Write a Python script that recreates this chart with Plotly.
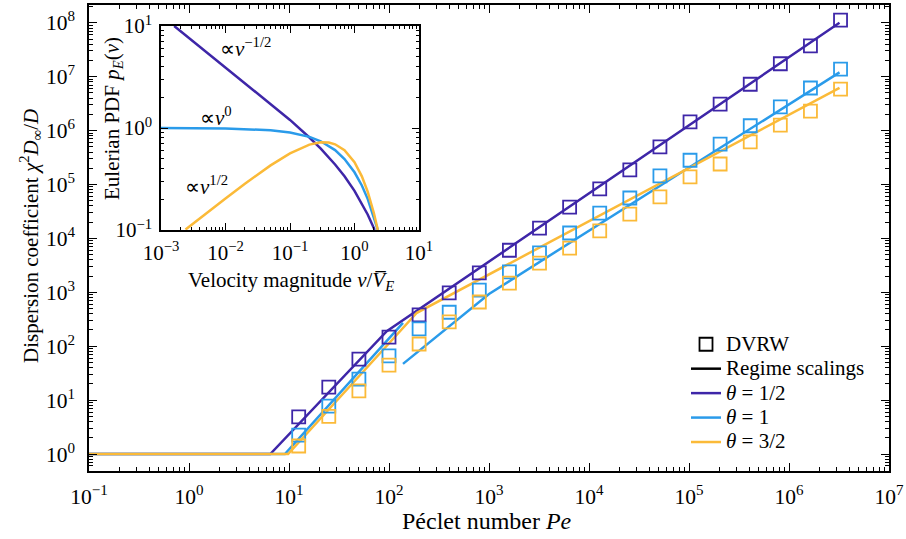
import plotly.graph_objects as go

# ---------------- data ----------------
# DVRW simulation points (Péclet number, dispersion coefficient)
pe_points = [12.5, 25, 50, 100, 200, 400, 800, 1600, 3200, 6400, 12800, 25600,
             51200, 102400, 204800, 409600, 819200, 1638400, 3276800]
d_half = [4.9, 17.4, 57.5, 148, 380, 977, 2290, 6030, 15500, 38000, 83200, 186000,
          501000, 1.45e6, 3.09e6, 7.24e6, 1.74e7, 3.72e7, 1.12e8]
d_one = [2.24, 7.76, 24.5, 66, 209, 427, 1100, 2400, 5370, 12600, 29500, 56200,
         145000, 282000, 562000, 1.23e6, 2.75e6, 6.17e6, 1.38e7]
d_threehalf = [1.41, 5.01, 14.8, 44.7, 110, 282, 661, 1480, 3470, 6610, 13800, 28200,
               58900, 138000, 240000, 617000, 1.26e6, 2.29e6, 5.89e6]

# Regime scaling lines (vertices)
pe_scal_half = [0.1, 6.5, 95, 3.2e6]
d_scal_half = [1, 1, 190, 1.0e8]
pe_scal_one_a = [0.1, 9.1, 138]
d_scal_one_a = [1, 1, 270]
pe_scal_one_b = [138, 1000, 3.2e6]
d_scal_one_b = [47, 933, 1.2e7]
pe_scal_threehalf = [0.1, 9.8, 190, 3.2e6]
d_scal_threehalf = [1, 1, 417, 6.2e6]

# Inset: Eulerian velocity PDFs
v_half = [0.0016, 0.002, 0.005, 0.01, 0.02, 0.05, 0.1, 0.2, 0.3, 0.5, 0.7, 1.0, 1.3, 1.6, 2.0, 2.05]
p_half = [10.0, 8.92, 5.63, 3.97, 2.79, 1.74, 1.20, 0.807, 0.627, 0.439, 0.336, 0.242, 0.183, 0.142, 0.104, 0.100]
v_one = [0.001, 0.01, 0.05, 0.1, 0.2, 0.3, 0.5, 0.7, 1.0, 1.3, 1.6, 2.0, 2.3]
p_one = [0.999, 0.990, 0.951, 0.905, 0.819, 0.741, 0.607, 0.497, 0.368, 0.273, 0.202, 0.135, 0.100]
v_threehalf = [0.0024, 0.005, 0.01, 0.02, 0.05, 0.1, 0.2, 0.3, 0.4, 0.5, 0.7, 1.0, 1.3, 1.6, 2.0, 2.3]
p_threehalf = [0.101, 0.146, 0.204, 0.284, 0.430, 0.564, 0.687, 0.725, 0.720, 0.692, 0.607, 0.463, 0.336, 0.238, 0.146, 0.100]

main_x_exps = [-1, 0, 1, 2, 3, 4, 5, 6, 7]
main_y_exps = [0, 1, 2, 3, 4, 5, 6, 7, 8]
inset_x_exps = [-3, -2, -1, 0, 1]
inset_y_exps = [-1, 0, 1]

legend_names = ["DVRW", "Regime scalings", "<i>θ</i> = 1/2", "<i>θ</i> = 1", "<i>θ</i> = 3/2"]

# ---------------- style ----------------
PURPLE = "#3E26A8"
BLUE = "#2A9BEA"
YELLOW = "#FBBA38"
FONT = "Liberation Serif"


def sup_labels(exps):
    return ["10<sup>%s</sup>" % (str(e).replace("-", "\u2212")) for e in exps]


def minor_vals(exps):
    vals = []
    for e in exps[:-1]:
        for m in range(2, 10):
            vals.append(m * 10 ** e)
    return vals


def big(t):
    return '<span style="font-size:21px">%s</span>' % t


fig = go.Figure()

# main regime lines
for xs, ys, c in [(pe_scal_half, d_scal_half, PURPLE),
                  (pe_scal_one_a, d_scal_one_a, BLUE),
                  (pe_scal_one_b, d_scal_one_b, BLUE),
                  (pe_scal_threehalf, d_scal_threehalf, YELLOW)]:
    fig.add_trace(go.Scatter(x=xs, y=ys, mode="lines", line=dict(color=c, width=2.5),
                             showlegend=False, xaxis="x", yaxis="y"))

# DVRW markers
for ys, c in [(d_half, PURPLE), (d_one, BLUE), (d_threehalf, YELLOW)]:
    fig.add_trace(go.Scatter(x=pe_points, y=ys, mode="markers",
                             marker=dict(symbol="square-open", size=13, color=c,
                                         line=dict(width=1.8, color=c)),
                             showlegend=False, xaxis="x", yaxis="y"))

# legend entries
fig.add_trace(go.Scatter(x=[None], y=[None], mode="markers", name=big(legend_names[0]),
                         marker=dict(symbol="square-open", size=13, color="black",
                                     line=dict(width=1.8, color="black"))))
for name, c in zip(legend_names[1:], ["black", PURPLE, BLUE, YELLOW]):
    fig.add_trace(go.Scatter(x=[None], y=[None], mode="lines", name=big(name),
                             line=dict(color=c, width=2.5)))

# inset curves
for xs, ys, c in [(v_half, p_half, PURPLE), (v_one, p_one, BLUE), (v_threehalf, p_threehalf, YELLOW)]:
    fig.add_trace(go.Scatter(x=xs, y=ys, mode="lines", line=dict(color=c, width=2.5),
                             showlegend=False, xaxis="x2", yaxis="y2"))

W, H = 906, 539
L, R, T, B = 89, 17, 5, 68
PW, PH = W - L - R, H - T - B


def px(xp):
    return (xp - L) / PW


def py(yp):
    return (H - B - yp) / PH


axis_common = dict(type="log", showline=True, linecolor="black", linewidth=1.5,
                   mirror="allticks", ticks="inside", tickcolor="black", tickwidth=1.2,
                   showgrid=False, zeroline=False, tickmode="array", automargin=False,
                   tickfont=dict(family=FONT, size=21.5, color="black"))

fig.update_layout(
    width=W, height=H,
    margin=dict(l=L, r=R, t=T, b=B, autoexpand=False),
    paper_bgcolor="white", plot_bgcolor="white",
    font=dict(family=FONT, color="black"),
    xaxis=dict(axis_common, domain=[0, 1], range=[-1, 7], ticklen=8,
               tickvals=[10 ** e for e in main_x_exps], ticktext=sup_labels(main_x_exps),
               minor=dict(tickmode="array", tickvals=minor_vals(main_x_exps), ticks="inside",
                          ticklen=4, tickcolor="black", tickwidth=1.2),
               ticklabelstandoff=5),
    yaxis=dict(axis_common, domain=[0, 1], range=[-0.315, 8.33], ticklen=8,
               tickvals=[10 ** e for e in main_y_exps], ticktext=sup_labels(main_y_exps),
               minor=dict(tickmode="array", tickvals=minor_vals([-1] + main_y_exps + [9]),
                          ticks="inside", ticklen=4, tickcolor="black", tickwidth=1.2),
               ticklabelstandoff=8),
    xaxis2=dict(axis_common, domain=[px(161), px(419)], range=[-3, 1], anchor="y2", ticklen=7,
                tickvals=[10 ** e for e in inset_x_exps], ticktext=sup_labels(inset_x_exps),
                minor=dict(tickmode="array", tickvals=minor_vals(inset_x_exps), ticks="inside",
                           ticklen=3.5, tickcolor="black", tickwidth=1.2),
                tickfont=dict(family=FONT, size=21, color="black"), ticklabelstandoff=3),
    yaxis2=dict(axis_common, domain=[py(230), py(26)], range=[-1, 1], anchor="x2", ticklen=7,
                tickvals=[10 ** e for e in inset_y_exps], ticktext=sup_labels(inset_y_exps),
                minor=dict(tickmode="array", tickvals=minor_vals(inset_y_exps), ticks="inside",
                           ticklen=3.5, tickcolor="black", tickwidth=1.2),
                tickfont=dict(family=FONT, size=21, color="black"), ticklabelstandoff=3),
    legend=dict(x=px(686), y=py(327), xanchor="left", yanchor="top",
                bgcolor="rgba(0,0,0,0)", font=dict(family=FONT, size=16.5, color="black"),
                itemwidth=30, tracegroupgap=0),
    showlegend=True,
)

annots = [
    ("Dispersion coefficient <i>χ</i><sup>2</sup><i>D</i><sub>∞</sub>/<i>D</i>", 30, 236, -90, 21),
    ("Péclet number <i>Pe</i>", 487, 521, 0, 24),
    ("Eulerian PDF <i>p</i><sub><i>E</i></sub>(<i>v</i>)", 113, 119, -90, 21),
    ("Velocity magnitude <i>v</i>/<i>V\u0305</i><sub><i>E</i></sub>", 291, 281, 0, 21),
    ("∝<i>v</i><sup>−1/2</sup>", 245, 47, 0, 21),
    ("∝<i>v</i><sup>0</sup>", 216, 117, 0, 21),
    ("∝<i>v</i><sup>1/2</sup>", 206, 185, 0, 21),
]
for t, x, y, ang, sz in annots:
    fig.add_annotation(xref="paper", yref="paper", showarrow=False,
                       xanchor="center", yanchor="middle",
                       font=dict(family=FONT, color="black", size=sz),
                       text=t, x=px(x), y=py(y), textangle=ang)

fig.write_html("out.html")
